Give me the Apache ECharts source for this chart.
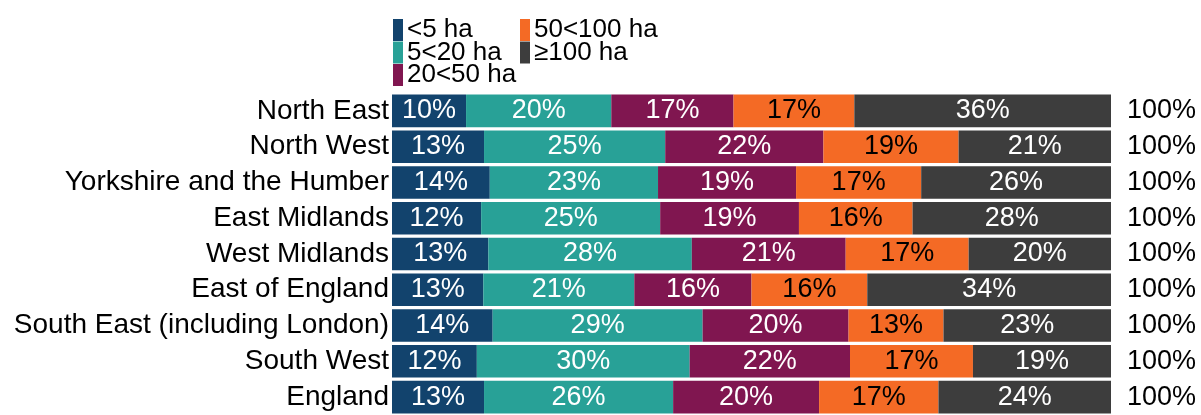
<!DOCTYPE html>
<html>
<head>
<meta charset="utf-8">
<script src="https://cdn.jsdelivr.net/npm/echarts@6/dist/echarts.min.js"></script>
<style>
	html, body {margin: 0; padding: 0; background: #fff;}
	#main {width: 1201px; height: 415px;}
</style>
</head>
<body>
<div id="main"></div>
<script>
	var regions = ['North East', 'North West', 'Yorkshire and the Humber', 'East Midlands', 'West Midlands',
		'East of England', 'South East (including London)', 'South West', 'England'];
	var sizeBands = ['<5 ha', '5<20 ha', '20<50 ha', '50<100 ha', '≥100 ha'];
	var bandColors = ['#12436D', '#28A197', '#801650', '#F46A25', '#3D3D3D'];
	var labelColors = ['#fff', '#fff', '#fff', '#000', '#fff'];

	// share of holdings, %
	var under5 = [10.3, 12.8, 13.6, 12.4, 13.4, 12.7, 14.0, 11.8, 12.8];
	var from5to20 = [20.2, 25.2, 23.4, 24.9, 28.3, 21.0, 29.2, 29.6, 26.3];
	var from20to50 = [17.0, 22.0, 19.2, 19.3, 21.4, 16.3, 20.3, 22.3, 20.3];
	var from50to100 = [16.8, 18.8, 17.4, 15.8, 17.1, 16.1, 13.2, 17.1, 16.6];
	var over100 = [35.7, 21.2, 26.4, 27.6, 19.8, 33.9, 23.3, 19.2, 24.0];

	var bandData = [under5, from5to20, from20to50, from50to100, over100];
	var totals = regions.map(function (r, i) {
		var s = 0;
		bandData.forEach(function (arr) { s += arr[i]; });
		return Math.round(s) + '%';
	});

	var font = 'Liberation Sans, Arial, sans-serif';
	var legendText = {fontFamily: font, fontSize: 26, color: '#000', padding: [2, 0, 0, -1]};
	var myChart = echarts.init(document.getElementById('main'));
	var option = {
		animation: false,
		legend: [{
			orient: 'vertical',
			left: 393, top: 17, padding: 0,
			itemWidth: 10, itemHeight: 22, itemGap: -3.5,
			icon: 'rect',
			data: sizeBands.slice(0, 3),
			textStyle: legendText,
			selectedMode: false
		}, {
			orient: 'vertical',
			left: 520, top: 17, padding: 0,
			itemWidth: 10, itemHeight: 22, itemGap: -3.5,
			icon: 'rect',
			data: sizeBands.slice(3),
			textStyle: legendText,
			selectedMode: false
		}],
		grid: {left: 392, right: 90, top: 93, height: 327, containLabel: false},
		xAxis: {type: 'value', min: 0, max: 100, show: false},
		yAxis: [{
			type: 'category',
			data: regions,
			inverse: true,
			axisLine: {show: false},
			axisTick: {show: false},
			axisLabel: {interval: 0, fontFamily: font, fontSize: 28, color: '#000', margin: 3}
		}, {
			type: 'category',
			data: totals,
			inverse: true,
			position: 'right',
			axisLine: {show: false},
			axisTick: {show: false},
			axisLabel: {interval: 0, fontFamily: font, fontSize: 27, color: '#000', margin: 16, align: 'left'}
		}],
		series: sizeBands.map(function (name, k) {
			return {
				name: name,
				type: 'bar',
				stack: 'total',
				barCategoryGap: '9%',
				data: bandData[k],
				itemStyle: {color: bandColors[k]},
				label: {
					show: true,
					position: 'inside',
					fontFamily: font,
					fontSize: 27,
					color: labelColors[k],
					formatter: function (p) { return Math.round(p.value) + '%'; }
				}
			};
		})
	};
	myChart.setOption(option);
</script>
</body>
</html>
